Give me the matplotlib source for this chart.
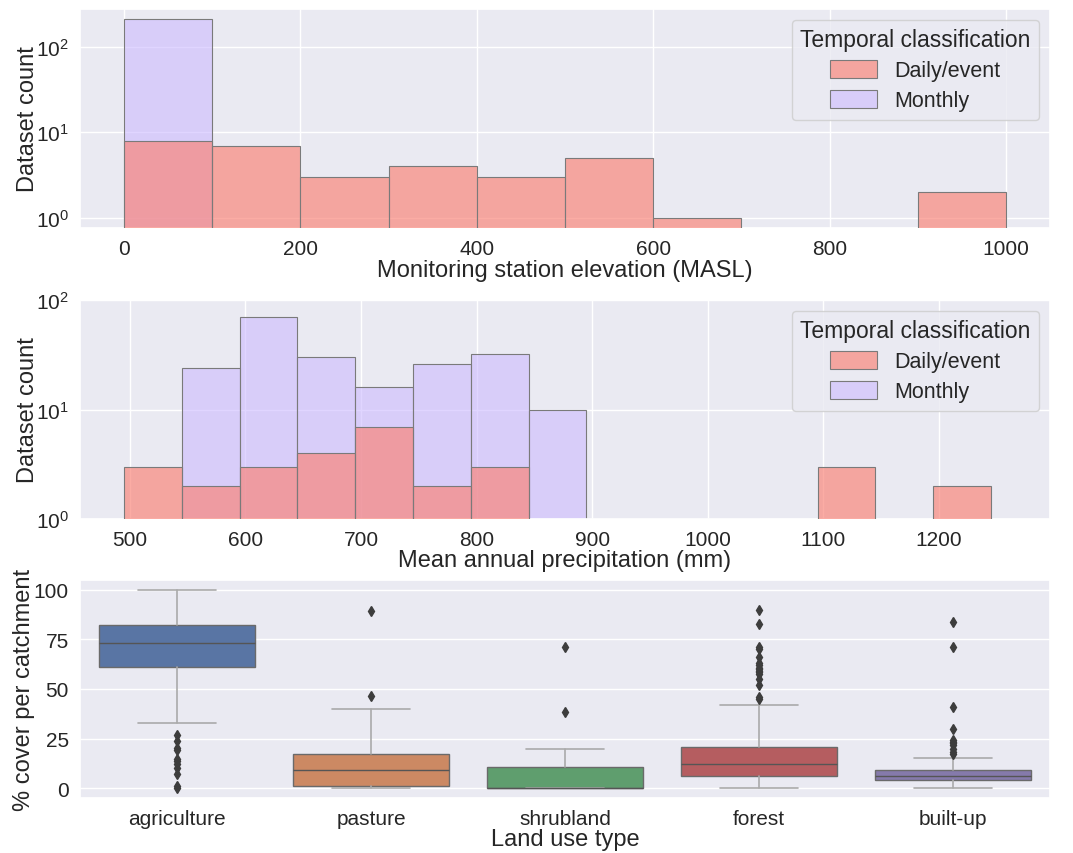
import numpy as np
import matplotlib
matplotlib.use("Agg")
import matplotlib.pyplot as plt
import seaborn as sns

# elevation histogram (bins of 100 m)
elev_edges = [0, 100, 200, 300, 400, 500, 600, 700, 800, 900, 1000]
elev_daily = [8, 7, 3, 4, 3, 5, 1, 0, 0, 2]
elev_monthly = [210, 0, 0, 0, 0, 0, 0, 0, 0, 0]

# precipitation histogram (bins of 50 mm)
prec_edges = [495, 545, 595, 645, 695, 745, 795, 845, 895, 945, 995, 1045,
              1095, 1145, 1195, 1245]
prec_daily = [3, 2, 3, 4, 7, 2, 3, 0, 0, 0, 0, 0, 3, 0, 2]
prec_monthly = [0, 24, 70, 30, 16, 26, 32, 10, 1, 1, 1, 0, 0, 0, 0]

# land use box statistics (% cover per catchment)
landuse = ["agriculture", "pasture", "shrubland", "forest", "built-up"]
whis_lo = [33, 0, 0, 0, 0]
q1 = [61, 1.3, 0, 6, 4.2]
med = [73, 8.9, 0.2, 12, 6]
q3 = [82.5, 17.1, 10.8, 20.7, 8.9]
whis_hi = [100, 40, 19.8, 41.8, 15]
fliers = [
    [27, 24, 20, 19, 14.5, 13.5, 12, 10, 7, 1, 0],
    [46.4, 89.4],
    [38.3, 71],
    [45, 46, 52, 55, 57.5, 58.5, 59.2, 60, 60.8, 62.2, 63, 66, 70.3, 71, 83, 90],
    [17, 18.3, 19.8, 21.5, 22.5, 23.2, 24.5, 30, 41, 71, 84],
]

sns.set_theme(style="darkgrid")
plt.rcParams["font.family"] = ["Liberation Sans", "DejaVu Sans"]
plt.rcParams["mathtext.fontset"] = "custom"
plt.rcParams["mathtext.rm"] = "Liberation Sans"
plt.rcParams["mathtext.it"] = "Liberation Sans:italic"

daily_col = (0.98, 0.50, 0.45, 0.65)
monthly_col = (0.80, 0.73, 1.0, 0.6)
edge = "#7a7a7a"

fig = plt.figure(figsize=(10.73, 8.54), dpi=100)
ax1 = fig.add_axes([0.0746, 0.7319, 0.904, 0.2564])
ax2 = fig.add_axes([0.0746, 0.391, 0.904, 0.2565])
ax3 = fig.add_axes([0.0746, 0.0644, 0.904, 0.2553])


def hist_panel(ax, edges, daily, monthly):
    edges = np.array(edges)
    w = np.diff(edges)
    ax.bar(edges[:-1], monthly, width=w, align="edge", color=monthly_col,
           edgecolor=edge, linewidth=0.8, label="Monthly", zorder=2)
    ax.bar(edges[:-1], daily, width=w, align="edge", color=daily_col,
           edgecolor=edge, linewidth=0.8, label="Daily/event", zorder=3)
    ax.set_yscale("log")
    ax.set_ylabel("Dataset count", fontsize=17, labelpad=-2)
    ax.tick_params(labelsize=15, pad=2)
    h, l = ax.get_legend_handles_labels()
    leg = ax.legend(h[::-1], l[::-1], title="Temporal classification",
                    loc="upper right", fontsize=15.5, title_fontsize=16.5,
                    handlelength=2.2, handleheight=0.9, labelspacing=0.4)
    leg.get_frame().set_edgecolor("0.8")


hist_panel(ax1, elev_edges, elev_daily, elev_monthly)
ax1.set_xlim(-50, 1050)
ax1.set_ylim(0.76, 277)
ax1.set_xlabel("Monitoring station elevation (MASL)", fontsize=17, labelpad=1)

hist_panel(ax2, prec_edges, prec_daily, prec_monthly)
ax2.set_xlim(457, 1296)
ax2.set_ylim(1, 100)
ax2.set_xlabel("Mean annual precipitation (mm)", fontsize=17, labelpad=0)

# box plot from precomputed statistics
stats = []
for i, name in enumerate(landuse):
    stats.append(dict(label=name, whislo=whis_lo[i], q1=q1[i], med=med[i],
                      q3=q3[i], whishi=whis_hi[i], fliers=fliers[i]))
palette = sns.color_palette("deep", len(landuse), desat=0.75)
bp = ax3.bxp(stats, positions=range(len(landuse)), widths=0.8,
             patch_artist=True, showfliers=True,
             boxprops=dict(edgecolor="#6a6a6a", linewidth=1.0),
             medianprops=dict(color="#555555", linewidth=1.0),
             whiskerprops=dict(color="#aaaaaa", linewidth=1.2),
             capprops=dict(color="#aaaaaa", linewidth=1.2),
             flierprops=dict(marker="d", markersize=5, markerfacecolor="#3d3d3d",
                             markeredgecolor="#3d3d3d", linestyle="none"))
for patch, c in zip(bp["boxes"], palette):
    patch.set_facecolor(c)
ax3.set_xlim(-0.5, len(landuse) - 0.5)
ax3.set_ylim(-5, 105)
ax3.set_yticks([0, 25, 50, 75, 100])
ax3.set_xticks(range(len(landuse)))
ax3.set_xticklabels(landuse)
ax3.grid(axis="x", visible=False)
ax3.tick_params(labelsize=15, pad=2)
ax3.set_xlabel("Land use type", fontsize=17, labelpad=0)
ax3.set_ylabel("% cover per catchment", fontsize=17, labelpad=-1)

fig.savefig("out.png", dpi=100)
